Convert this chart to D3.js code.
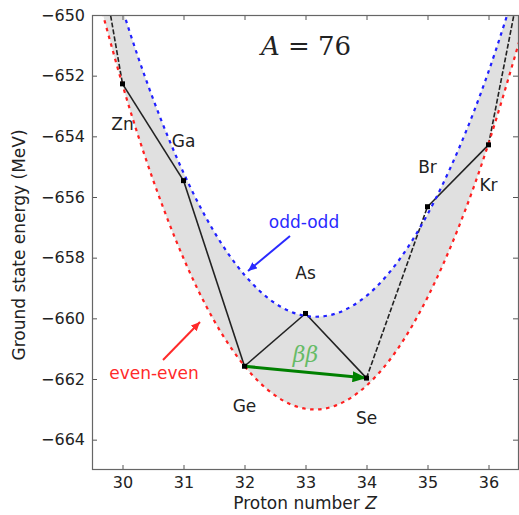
<!DOCTYPE html>
<html>
<head>
<meta charset="utf-8">
<script src="https://cdn.jsdelivr.net/npm/d3@7"></script>
<style>
  html, body { margin: 0; padding: 0; background: #fff; }
  svg { display: block; font-family: "DejaVu Sans", sans-serif; }
</style>
</head>
<body>
<svg id="chart" width="519" height="515"></svg>
<script>
// Nuclides of the A = 76 isobar chain (proton number, symbol, ground state energy in MeV)
const protonNumbers = [29, 30, 31, 32, 33, 34, 35, 36, 37];
const elements = ["Cu", "Zn", "Ga", "Ge", "As", "Se", "Br", "Kr", "Rb"];
const groundEnergies = [-640.7, -652.27, -655.46, -661.58, -659.84, -661.97, -656.32, -654.28, -644.0];

// Mass parabolas sampled every half unit of Z
const parabolaZ = [29.5, 30, 30.5, 31, 31.5, 32, 32.5, 33, 33.5, 34, 34.5, 35, 35.5, 36, 36.5];
const evenEvenCurve = [-648.64, -652.30, -655.43, -658.02, -660.07, -661.57, -662.54, -662.98,
                       -662.87, -662.22, -661.04, -659.31, -657.05, -654.24, -650.90];
const oddOddCurve = [-646.36, -649.81, -652.76, -655.20, -657.14, -658.57, -659.50, -659.92,
                     -659.84, -659.26, -658.17, -656.57, -654.47, -651.87, -648.76];

// Axis ticks
const xTicks = [30, 31, 32, 33, 34, 35, 36];
const yTicks = [-664, -662, -660, -658, -656, -654, -652, -650];

const svg = d3.select("#chart");
const plotLeft = 92, plotRight = 519, plotTop = 15, plotBottom = 470;

const x = d3.scaleLinear().domain([29.5, 36.5]).range([plotLeft, plotRight]);
const y = d3.scaleLinear().domain([-665, -650]).range([plotBottom, plotTop]);

const defs = svg.append("defs");
defs.append("clipPath").attr("id", "plot-clip")
  .append("rect").attr("x", plotLeft).attr("y", plotTop)
  .attr("width", plotRight - plotLeft).attr("height", plotBottom - plotTop);

function arrowMarker(id, color, w, h) {
  defs.append("marker").attr("id", id)
    .attr("viewBox", `0 0 ${w} ${h}`)
    .attr("refX", w).attr("refY", h / 2)
    .attr("markerUnits", "userSpaceOnUse")
    .attr("markerWidth", w).attr("markerHeight", h)
    .attr("orient", "auto")
    .append("path").attr("d", `M0,0L${w},${h / 2}L0,${h}Z`).attr("fill", color);
}
arrowMarker("head-green", "#008000", 14, 11);
arrowMarker("head-blue", "#2a2aff", 9, 8);
arrowMarker("head-red", "#ff2a2a", 9, 8);

const plot = svg.append("g").attr("clip-path", "url(#plot-clip)");

const curvePts = parabolaZ.map((z, i) => ({ z, ee: evenEvenCurve[i], oo: oddOddCurve[i] }));

// Shaded band between the two parabolas
plot.append("path")
  .datum(curvePts)
  .attr("fill", "#e0e0e0")
  .attr("d", d3.area().curve(d3.curveNatural)
    .x(d => x(d.z)).y0(d => y(d.ee)).y1(d => y(d.oo)));

// Ground state energies joined in order of Z
const nuclides = protonNumbers.map((z, i) => ({ z, el: elements[i], e: groundEnergies[i] }));
const dashedSteps = new Set(["Cu", "Se", "Kr"]);
for (let i = 0; i < nuclides.length - 1; i++) {
  const a = nuclides[i], b = nuclides[i + 1];
  plot.append("line")
    .attr("x1", x(a.z)).attr("y1", y(a.e))
    .attr("x2", x(b.z)).attr("y2", y(b.e))
    .attr("stroke", "#222").attr("stroke-width", 1.6)
    .attr("stroke-dasharray", dashedSteps.has(a.el) ? "5,2" : null);
}

// Even-even and odd-odd parabolas
const curveLine = key => d3.line().curve(d3.curveNatural).x(d => x(d.z)).y(d => y(d[key]));
plot.append("path").datum(curvePts)
  .attr("fill", "none").attr("stroke", "#ff2020").attr("stroke-width", 2.2)
  .attr("stroke-dasharray", "3.5,4.5").attr("d", curveLine("ee"));
plot.append("path").datum(curvePts)
  .attr("fill", "none").attr("stroke", "#2020ff").attr("stroke-width", 2.2)
  .attr("stroke-dasharray", "3.5,4.5").attr("d", curveLine("oo"));

// Double beta decay arrow Ge -> Se
const ge = nuclides.find(d => d.el === "Ge"), se = nuclides.find(d => d.el === "Se");
plot.append("line")
  .attr("x1", x(ge.z)).attr("y1", y(ge.e))
  .attr("x2", x(se.z)).attr("y2", y(se.e))
  .attr("stroke", "#008000").attr("stroke-width", 3)
  .attr("marker-end", "url(#head-green)");

// Nuclide markers and symbols
const shown = nuclides.filter(d => d.z >= 30 && d.z <= 36);
plot.selectAll("rect.pt").data(shown).join("rect")
  .attr("class", "pt")
  .attr("x", d => x(d.z) - 2.5).attr("y", d => y(d.e) - 2.5)
  .attr("width", 5).attr("height", 5).attr("fill", "#000");

svg.selectAll("text.el").data(shown).join("text")
  .attr("class", "el")
  .attr("x", d => x(d.z))
  .attr("y", d => y(d.e) + (d.z % 2 ? -40 : 40))
  .attr("text-anchor", "middle").attr("dominant-baseline", "central")
  .attr("font-size", 17).attr("fill", "#222")
  .text(d => d.el);

// Annotations
svg.append("text")
  .attr("x", x(33)).attr("y", y(-661.2))
  .attr("text-anchor", "middle").attr("dominant-baseline", "central")
  .attr("font-family", "DejaVu Serif, serif").attr("font-style", "italic")
  .attr("font-size", 22).attr("fill", "#66bb66")
  .text("ββ");

const title = svg.append("text")
  .attr("x", 306).attr("y", 55)
  .attr("text-anchor", "middle")
  .attr("font-family", "DejaVu Serif, serif").attr("font-size", 26).attr("fill", "#222");
title.append("tspan").attr("font-style", "italic").text("A");
title.append("tspan").text(" = 76");

svg.append("text").attr("x", 304).attr("y", 228)
  .attr("text-anchor", "middle").attr("font-size", 17).attr("fill", "#2a2aff")
  .text("odd-odd");
svg.append("line").attr("x1", 290).attr("y1", 236).attr("x2", 248).attr("y2", 271)
  .attr("stroke", "#2a2aff").attr("stroke-width", 2).attr("marker-end", "url(#head-blue)");

svg.append("text").attr("x", 154).attr("y", 379)
  .attr("text-anchor", "middle").attr("font-size", 17).attr("fill", "#ff2a2a")
  .text("even-even");
svg.append("line").attr("x1", 163).attr("y1", 360).attr("x2", 200).attr("y2", 322)
  .attr("stroke", "#ff2a2a").attr("stroke-width", 2).attr("marker-end", "url(#head-red)");

// Axes with inward ticks on all four sides
const styleAxis = g => {
  g.select(".domain").remove();
  g.selectAll(".tick line").attr("stroke", "#555");
  g.selectAll(".tick text").attr("fill", "#222").attr("font-size", 16)
    .attr("font-family", "DejaVu Sans, sans-serif");
};
svg.append("g").attr("transform", `translate(0,${plotBottom})`)
  .call(d3.axisBottom(x).tickValues(xTicks).tickFormat(d3.format("d")).tickSizeInner(-5).tickSizeOuter(0).tickPadding(7))
  .call(styleAxis);
svg.append("g").attr("transform", `translate(${plotLeft},0)`)
  .call(d3.axisLeft(y).tickValues(yTicks).tickFormat(d3.format("d")).tickSizeInner(-5).tickSizeOuter(0).tickPadding(7))
  .call(styleAxis);
svg.append("g").attr("transform", `translate(0,${plotTop})`)
  .call(d3.axisTop(x).tickValues(xTicks).tickFormat("").tickSizeInner(-5).tickSizeOuter(0))
  .call(styleAxis);
svg.append("g").attr("transform", `translate(${plotRight - 1},0)`)
  .call(d3.axisRight(y).tickValues(yTicks).tickFormat("").tickSizeInner(-5).tickSizeOuter(0))
  .call(styleAxis);

svg.append("rect").attr("x", plotLeft + 0.5).attr("y", plotTop + 0.5)
  .attr("width", plotRight - plotLeft - 1).attr("height", plotBottom - plotTop - 1)
  .attr("fill", "none").attr("stroke", "#666").attr("stroke-width", 1.2);

// Axis titles
const xLabel = svg.append("text").attr("x", 305).attr("y", 509)
  .attr("text-anchor", "middle").attr("font-size", 17).attr("fill", "#222");
xLabel.append("tspan").text("Proton number ");
xLabel.append("tspan").attr("font-style", "italic").text("Z");

svg.append("text")
  .attr("transform", "translate(25,245) rotate(-90)")
  .attr("text-anchor", "middle").attr("font-size", 17).attr("fill", "#222")
  .text("Ground state energy (MeV)");
</script>
</body>
</html>
